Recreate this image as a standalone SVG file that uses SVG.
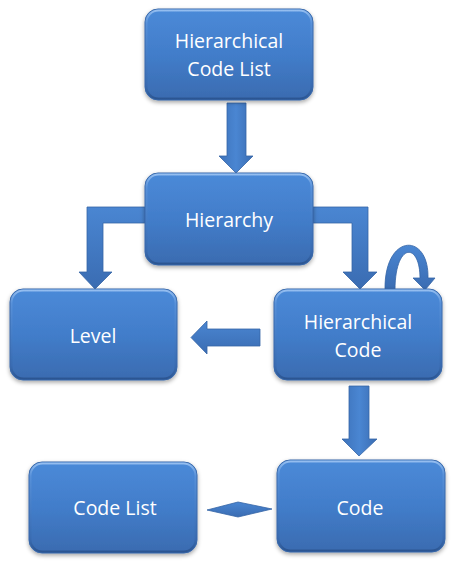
<svg xmlns="http://www.w3.org/2000/svg" width="459" height="564" viewBox="0 0 459 564">
<defs>
<linearGradient id="gBox" x1="0" y1="0" x2="0" y2="1">
<stop offset="0" stop-color="#4b8ad8"/>
<stop offset="0.5" stop-color="#427dca"/>
<stop offset="1" stop-color="#3a6bb0"/>
</linearGradient>
<linearGradient id="gHi" x1="0" y1="0" x2="0" y2="1">
<stop offset="0" stop-color="#9cc3f2" stop-opacity="0.9"/>
<stop offset="0.15" stop-color="#7aa9e4" stop-opacity="0.3"/>
<stop offset="0.85" stop-color="#2d5896" stop-opacity="0.2"/>
<stop offset="1" stop-color="#254c85" stop-opacity="0.7"/>
</linearGradient>
<linearGradient id="gArrH" x1="0" y1="0" x2="0" y2="1">
<stop offset="0" stop-color="#4a86d2"/>
<stop offset="1" stop-color="#3a6cb2"/>
</linearGradient>
<linearGradient id="gArrV" x1="0" y1="0" x2="1" y2="0">
<stop offset="0" stop-color="#3d72ba"/>
<stop offset="0.5" stop-color="#4a86d2"/>
<stop offset="1" stop-color="#3a6cb2"/>
</linearGradient>
<filter id="sh" x="-10%" y="-10%" width="120%" height="130%">
<feDropShadow dx="0" dy="2" stdDeviation="2" flood-color="#000" flood-opacity="0.35"/>
</filter>
</defs>
<style>
.box{fill:url(#gBox);stroke:#3867a8;stroke-width:1;filter:url(#sh)}
.hi{fill:none;stroke:url(#gHi);stroke-width:2}
.t{font-family:"Open Sans","Liberation Sans",sans-serif;font-size:19.5px;fill:#ffffff;text-anchor:middle}
.av{fill:url(#gArrV);stroke:#3564a6;stroke-width:0.8;stroke-linejoin:miter}
.ah{fill:url(#gArrH);stroke:#3564a6;stroke-width:0.8;stroke-linejoin:miter}
</style>
<rect width="459" height="564" fill="#ffffff"/>
<g id="connectors">
<polygon class="av" points="227,103 246,103 246,156 253,156 236,173 219,156 227,156"/>
<polygon class="ah" points="145,207 87,207 87,272 79,272 95,289 112,272 103,272 103,223 145,223"/>
<polygon class="ah" points="313,207 368,207 368,272 377,272 360,289 343,272 352,272 352,223 313,223"/>
<polygon class="ah" points="260,329 207,329 207,321 191,337.5 207,354 207,346 260,346"/>
<polygon class="av" points="349,386 369,386 369,439 377,439 359,456 342,439 349,439"/>
<polygon class="ah" points="207,510 238,502 272,509 238,517"/>
<path class="ah" d="M385,290 C384,233 429,232 428,278 L435,278 L425,290 L413,278 L420,278 C420,242 395,242 395,290 Z"/>
</g>
<g id="n1">
<rect class="box" x="145" y="9" width="168" height="91" rx="13"/>
<rect class="hi" x="146.5" y="10.5" width="165" height="88" rx="12"/>
<text class="t" x="229" y="48">Hierarchical</text>
<text class="t" x="229" y="76">Code List</text>
</g>
<g id="n2">
<rect class="box" x="145" y="173" width="168" height="92" rx="13"/>
<rect class="hi" x="146.5" y="174.5" width="165" height="89" rx="12"/>
<text class="t" x="229" y="227">Hierarchy</text>
</g>
<g id="n3">
<rect class="box" x="10" y="289" width="167" height="91" rx="13"/>
<rect class="hi" x="11.5" y="290.5" width="164" height="88" rx="12"/>
<text class="t" x="93" y="343">Level</text>
</g>
<g id="n4">
<rect class="box" x="274" y="289" width="168" height="91" rx="13"/>
<rect class="hi" x="275.5" y="290.5" width="165" height="88" rx="12"/>
<text class="t" x="358" y="329">Hierarchical</text>
<text class="t" x="358" y="357">Code</text>
</g>
<g id="n5">
<rect class="box" x="277" y="460" width="168" height="92" rx="13"/>
<rect class="hi" x="278.5" y="461.5" width="165" height="89" rx="12"/>
<text class="t" x="360" y="515">Code</text>
</g>
<g id="n6">
<rect class="box" x="29" y="462" width="168" height="91" rx="13"/>
<rect class="hi" x="30.5" y="463.5" width="165" height="88" rx="12"/>
<text class="t" x="115" y="515">Code List</text>
</g>
</svg>
